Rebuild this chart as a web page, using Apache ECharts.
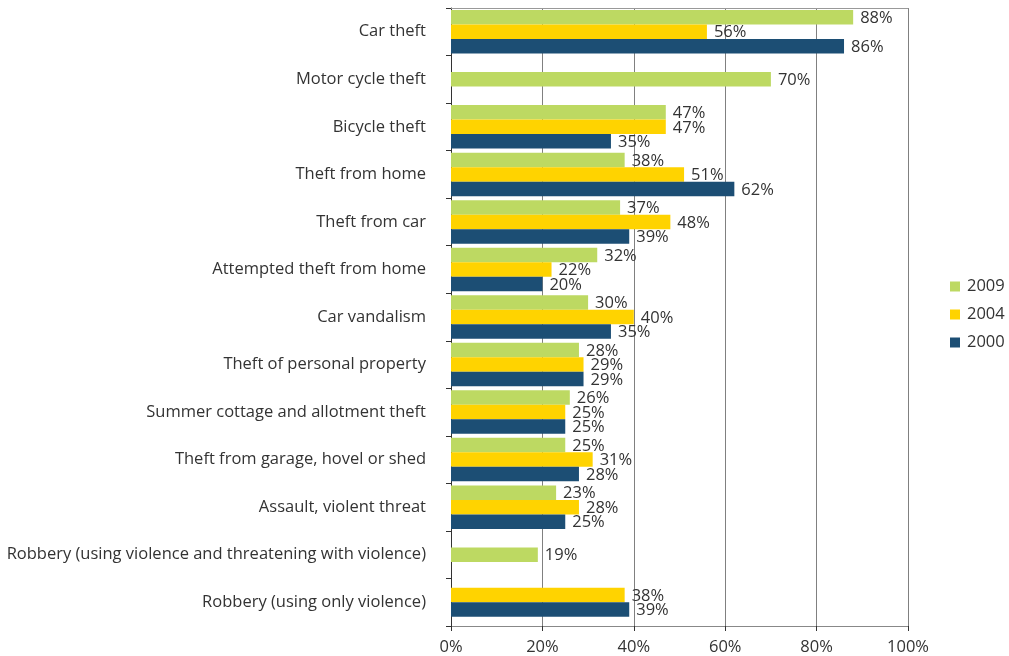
<!DOCTYPE html>
<html>
<head>
<meta charset="utf-8">
<script src="https://cdn.jsdelivr.net/npm/echarts@6/dist/echarts.min.js"></script>
<style>
  html, body { margin: 0; padding: 0; background: #fff; }
  #chart { width: 1009px; height: 656px; }
</style>
</head>
<body>
<div id="chart"></div>
<script>
// Crime categories, top to bottom
const categories = [
  'Car theft',
  'Motor cycle theft',
  'Bicycle theft',
  'Theft from home',
  'Theft from car',
  'Attempted theft from home',
  'Car vandalism',
  'Theft of personal property',
  'Summer cottage and allotment theft',
  'Theft from garage, hovel or shed',
  'Assault, violent threat',
  'Robbery (using violence and threatening with violence)',
  'Robbery (using only violence)'
];

// Share per survey year (%), null where not surveyed
const years = ['2009', '2004', '2000'];
const values2009 = [88, 70, 47, 38, 37, 32, 30, 28, 26, 25, 23, 19, null];
const values2004 = [56, null, 47, 51, 48, 22, 40, 29, 25, 31, 28, null, 38];
const values2000 = [86, null, 35, 62, 39, 20, 35, 29, 25, 28, 25, null, 39];

const xTicks = [0, 20, 40, 60, 80, 100];

const FONT = '"Open Sans", "Noto Sans", sans-serif';
const TEXT = '#333333';
const colors = ['#BDD962', '#FFD300', '#1C4E74'];
const allValues = [values2009, values2004, values2000];

// Bars of one category are packed together and centred in the band,
// so categories with fewer surveyed years have no empty slots.
function makeRenderer(yearIdx) {
  return function (params, api) {
    const cat = api.value(1);
    const val = api.value(0);
    const present = allValues.map((arr, i) => arr[cat] != null ? i : -1).filter(i => i >= 0);
    const slot = present.indexOf(yearIdx);
    const band = api.size([0, 1])[1];
    const barH = band * 0.305;
    const origin = api.coord([0, cat]);
    const end = api.coord([val, cat]);
    const groupTop = origin[1] - present.length * barH / 2;
    const y = groupTop + slot * barH;
    return {
      type: 'group',
      children: [
        {
          type: 'rect',
          shape: { x: origin[0], y: y, width: end[0] - origin[0], height: barH },
          style: { fill: colors[yearIdx] }
        },
        {
          type: 'text',
          x: end[0] + 7,
          y: y + barH / 2 + 1,
          style: {
            text: val + '%',
            fill: TEXT,
            font: '16.5px ' + FONT,
            verticalAlign: 'middle',
            align: 'left'
          },
          z2: 10
        }
      ]
    };
  };
}

function yearSeries(yearIdx) {
  const data = [];
  allValues[yearIdx].forEach((v, cat) => { if (v != null) data.push([v, cat]); });
  return {
    name: years[yearIdx],
    type: 'custom',
    renderItem: makeRenderer(yearIdx),
    encode: { x: 0, y: 1 },
    itemStyle: { color: colors[yearIdx] },
    data: data,
    z: 3
  };
}

const chart = echarts.init(document.getElementById('chart'), null, { renderer: 'canvas' });
chart.setOption({
  animation: false,
  backgroundColor: '#ffffff',
  textStyle: { fontFamily: FONT },
  grid: { left: 451, right: 101, top: 8, bottom: 29, containLabel: false },
  legend: {
    orient: 'vertical',
    left: 945,
    top: 273,
    itemWidth: 10,
    itemHeight: 10,
    itemGap: 11,
    icon: 'rect',
    textStyle: { color: TEXT, fontSize: 16.5, fontFamily: FONT, padding: [0, 0, 0, 2] },
    data: years
  },
  xAxis: [
    {
      type: 'value',
      position: 'bottom',
      min: xTicks[0],
      max: xTicks[xTicks.length - 1],
      interval: 20,
      axisLine: { show: true, lineStyle: { color: '#888888', width: 1 } },
      axisTick: { show: true, length: 5, lineStyle: { color: '#333333' } },
      axisLabel: {
        formatter: v => v + '%',
        color: TEXT,
        fontSize: 16.5,
        fontFamily: FONT,
        margin: 13
      },
      splitLine: { show: true, lineStyle: { color: '#808080', width: 1 } }
    },
    {
      type: 'value',
      position: 'top',
      min: 0,
      max: 100,
      interval: 20,
      axisLine: { show: true, lineStyle: { color: '#999999', width: 1 } },
      axisTick: { show: false },
      axisLabel: { show: false },
      splitLine: { show: false }
    }
  ],
  yAxis: {
    type: 'category',
    inverse: true,
    data: categories,
    axisLine: { show: true, lineStyle: { color: '#333333', width: 1 } },
    axisTick: { show: true, length: 5, lineStyle: { color: '#333333' } },
    axisLabel: {
      color: TEXT,
      fontSize: 16.5,
      fontFamily: FONT,
      margin: 25,
      padding: [0, 0, 4, 0]
    },
    splitLine: { show: false }
  },
  series: [yearSeries(0), yearSeries(1), yearSeries(2)]
});
</script>
</body>
</html>
